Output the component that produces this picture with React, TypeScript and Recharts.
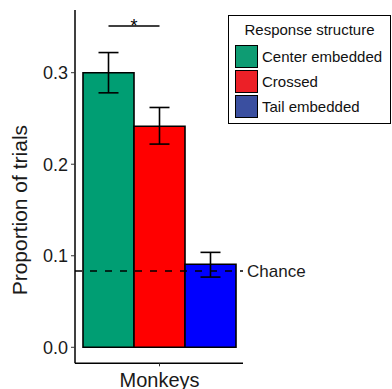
import React from "react";
import {
  BarChart,
  Bar,
  XAxis,
  YAxis,
  Cell,
  ErrorBar,
  ReferenceLine,
  Legend,
} from "recharts";

const FONT = "'Liberation Sans', Arial, Helvetica, sans-serif";

// ---- data ----
const conditions = ["Center embedded", "Crossed", "Tail embedded"];
const proportions = [0.3, 0.2415, 0.0907];
const errLow = [0.022, 0.0195, 0.014];
const errHigh = [0.022, 0.0205, 0.013];
const barColors = ["#009E73", "#FF0000", "#0000FF"];
const legendColors = ["#0E9C73", "#EC2027", "#3A4FA0"];
const yTicks = [0, 0.1, 0.2, 0.3];
const yDomain = [-0.0175, 0.3685];
const chanceLevel = 1 / 12;
const sigPair = ["Center embedded", "Crossed"];
const sigLevel = 0.351;
const groupLabel = "Monkeys";
const yTitle = "Proportion of trials";
const legendTitle = "Response structure";

const data = conditions.map((c, i) => ({
  condition: c,
  value: proportions[i],
  err: [errLow[i], errHigh[i]],
}));

const LegendBox = () => (
  <div
    style={{
      boxSizing: "border-box",
      width: 163,
      height: 109,
      border: "1px solid #000",
      background: "#fff",
      fontFamily: FONT,
      color: "#111",
    }}
  >
    <div
      style={{
        fontSize: 15,
        lineHeight: "17px",
        textAlign: "center",
        marginTop: 4.6,
        marginBottom: 6.4,
      }}
    >
      {legendTitle}
    </div>
    {conditions.map((c, i) => (
      <div
        key={c}
        style={{ display: "flex", alignItems: "center", height: 25, marginLeft: 6 }}
      >
        <span
          style={{
            display: "inline-block",
            boxSizing: "border-box",
            width: 23,
            height: 23,
            background: legendColors[i],
            border: "1.2px solid #000",
          }}
        />
        <span style={{ marginLeft: 4, fontSize: 15, lineHeight: "17px" }}>{c}</span>
      </div>
    ))}
  </div>
);

export default function App() {
  return (
    <div style={{ position: "absolute", left: 0, top: 0 }}>
      <BarChart
        width={392}
        height={389}
        data={data}
        margin={{ top: 10, right: 149, bottom: 0, left: 0 }}
        barCategoryGap={0}
        style={{ fontFamily: FONT }}
      >
        <XAxis
          dataKey="condition"
          padding={{ left: 8, right: 7 }}
          ticks={["Crossed"]}
          tickFormatter={() => groupLabel}
          tickSize={3}
          tickMargin={6}
          height={25.7}
          axisLine={{ stroke: "#000", strokeWidth: 1.5 }}
          tickLine={{ stroke: "#333", strokeWidth: 1 }}
          tick={{ fontSize: 20, fill: "#1a1a1a", fontFamily: FONT }}
          interval={0}
        />
        <YAxis
          type="number"
          domain={yDomain}
          allowDataOverflow
          ticks={yTicks}
          tickFormatter={(v: number) => v.toFixed(1)}
          width={75}
          tickSize={4}
          tickMargin={3}
          axisLine={{ stroke: "#000", strokeWidth: 1.5 }}
          tickLine={{ stroke: "#333", strokeWidth: 1 }}
          tick={{ fontSize: 18, fill: "#1a1a1a", fontFamily: FONT }}
          label={(props: any) => {
            const vb = props.viewBox || { x: 0, y: 10, width: 75, height: 353 };
            const x = vb.x + 26.7;
            const y = vb.y + vb.height / 2 + 23.5;
            return (
              <text
                x={x}
                y={y}
                transform={`rotate(-90, ${x}, ${y})`}
                textAnchor="middle"
                fontSize={21}
                fill="#1a1a1a"
                fontFamily={FONT}
              >
                {yTitle}
              </text>
            );
          }}
        />
        <Legend
          layout="horizontal"
          align="center"
          verticalAlign="middle"
          wrapperStyle={{ left: 228, top: 15, width: 163, height: 109 }}
          content={() => <LegendBox />}
        />
        <Bar
          dataKey="value"
          stroke="#000"
          strokeWidth={1.6}
          isAnimationActive={false}
        >
          {data.map((d, i) => (
            <Cell key={d.condition} fill={barColors[i]} />
          ))}
          <ErrorBar
            dataKey="err"
            width={10}
            stroke="#000"
            strokeWidth={1.6}
            isAnimationActive={false}
          />
        </Bar>
        <ReferenceLine
          y={chanceLevel}
          stroke="#000"
          strokeWidth={1.6}
          strokeDasharray="7 8"
          label={{
            value: "Chance",
            position: "right",
            offset: 4,
            fontSize: 17,
            fill: "#1a1a1a",
            fontFamily: FONT,
          }}
        />
        <ReferenceLine
          segment={[
            { x: sigPair[0], y: sigLevel },
            { x: sigPair[1], y: sigLevel },
          ]}
          stroke="#000"
          strokeWidth={1.6}
          label={{
            value: "*",
            position: "center",
            fontSize: 18,
            fill: "#000",
            fontFamily: FONT,
          }}
        />
      </BarChart>
    </div>
  );
}
